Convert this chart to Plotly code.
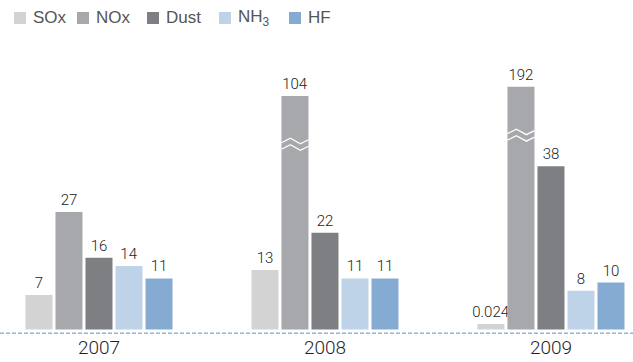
import plotly.graph_objects as go

# ---- data -------------------------------------------------------------
YEARS = ["2007", "2008", "2009"]
SERIES = ["SOx", "NOx", "Dust", "NH<sub>3</sub>", "HF"]
SOX = [7, 13, 0.024]
NOX = [27, 104, 192]
DUST = [16, 22, 38]
NH3 = [14, 11, 8]
HF = [11, 11, 10]

VALUES = [SOX, NOX, DUST, NH3, HF]
COLORS = ["#d3d3d4", "#a7a8ab", "#7e7f83", "#bed3e8", "#86abd3"]

# ---- value axis with a break: values above BREAK_AT are compressed ------
BREAK_AT = 53.7
BREAK_RATIO = 0.025
BAR_BASE = -1.31          # bars start slightly below zero
BREAK_MARK_DROP = 12.0    # break symbol sits this far below the bar top


def axis_pos(v):
    return v if v <= BREAK_AT else BREAK_AT + (v - BREAK_AT) * BREAK_RATIO


# ---- geometry ----------------------------------------------------------
W, H = 633, 362
M_T, M_B = 40, 28
PLOT_H = H - M_T - M_B
PX_PER_UNIT = 4.15
ZERO_PX = 324.05                      # pixel row of value 0
Y_RANGE = [-(H - M_B - ZERO_PX) / PX_PER_UNIT, (ZERO_PX - M_T) / PX_PER_UNIT]
X_RANGE = [-0.438, 2.363]
BARGAP = 0.336
BARGROUPGAP = 0.1
N = len(SERIES)
SLOT = (1 - BARGAP) / N
BAR_W = SLOT * (1 - BARGROUPGAP)

LABEL_FONT = dict(family="Roboto, sans-serif", size=15, color="#222222",
                  weight=300)

fig = go.Figure()
xs = list(range(len(YEARS)))

for name, vals, col in zip(SERIES, VALUES, COLORS):
    fig.add_trace(go.Bar(
        x=xs,
        y=[axis_pos(v) - BAR_BASE for v in vals],
        base=BAR_BASE,
        name=name,
        marker=dict(color=col, line=dict(width=0)),
        text=[f"{v:g}" for v in vals],
        textposition="outside",
        textfont=LABEL_FONT,
        constraintext="none",
        cliponaxis=False,
        showlegend=False,
        hoverinfo="skip",
    ))

# break symbols (double zigzag) on bars that run past the axis break
ZIG_FRAC = [0.0, 0.33, 0.7, 1.0]
ZIG_DY = [-3.0, -7.5, -2.0, -6.0]       # pixels, upper stroke
ZIG_GAP = 6.5                           # pixels between the two strokes
for j, vals in enumerate(VALUES):
    center_off = (j - (N - 1) / 2) * SLOT
    for i, v in enumerate(vals):
        if v <= BREAK_AT:
            continue
        left = i + center_off - BAR_W / 2
        mid = axis_pos(v) - BREAK_MARK_DROP
        for shift in (0.0, ZIG_GAP):
            fig.add_trace(go.Scatter(
                x=[left + f * BAR_W for f in ZIG_FRAC],
                y=[mid - (dy + shift) / PX_PER_UNIT for dy in ZIG_DY],
                mode="lines",
                line=dict(color="white", width=1.3),
                showlegend=False,
                hoverinfo="skip",
            ))

# dashed baseline
fig.add_shape(type="line", xref="paper", x0=0, x1=1, yref="y",
              y0=-2.23, y1=-2.23,
              line=dict(color="#8fb5de", width=1.5, dash="4px,2px"))

# legend row
LEGEND_X = [14, 77, 147, 219, 289]
SQ = 12
LEG_TOP = 12


def py(px):
    return (H - M_B - px) / PLOT_H


for name, col, lx in zip(SERIES, COLORS, LEGEND_X):
    fig.add_shape(type="rect", xref="paper", yref="paper",
                  x0=lx / W, x1=(lx + SQ) / W,
                  y0=py(LEG_TOP + SQ), y1=py(LEG_TOP),
                  fillcolor=col, line=dict(width=0))
    fig.add_annotation(xref="paper", yref="paper",
                       x=(lx + SQ + 5) / W, y=py(LEG_TOP + SQ / 2),
                       xanchor="left", yanchor="middle", showarrow=False,
                       text=name,
                       font=dict(family="Liberation Sans, Arial, sans-serif",
                                 size=17, color="#555555"))

fig.update_layout(
    width=W, height=H,
    margin=dict(l=0, r=0, t=M_T, b=M_B),
    paper_bgcolor="white", plot_bgcolor="white",
    barmode="group", bargap=BARGAP, bargroupgap=BARGROUPGAP,
    xaxis=dict(range=X_RANGE, tickvals=xs, ticktext=YEARS,
               showgrid=False, zeroline=False, showline=False, ticks="",
               tickfont=dict(family="Roboto, sans-serif", size=19,
                             color="#1f1f1f", weight=300)),
    yaxis=dict(range=Y_RANGE, visible=False, showgrid=False, zeroline=False),
)

fig.write_html("out.html")
